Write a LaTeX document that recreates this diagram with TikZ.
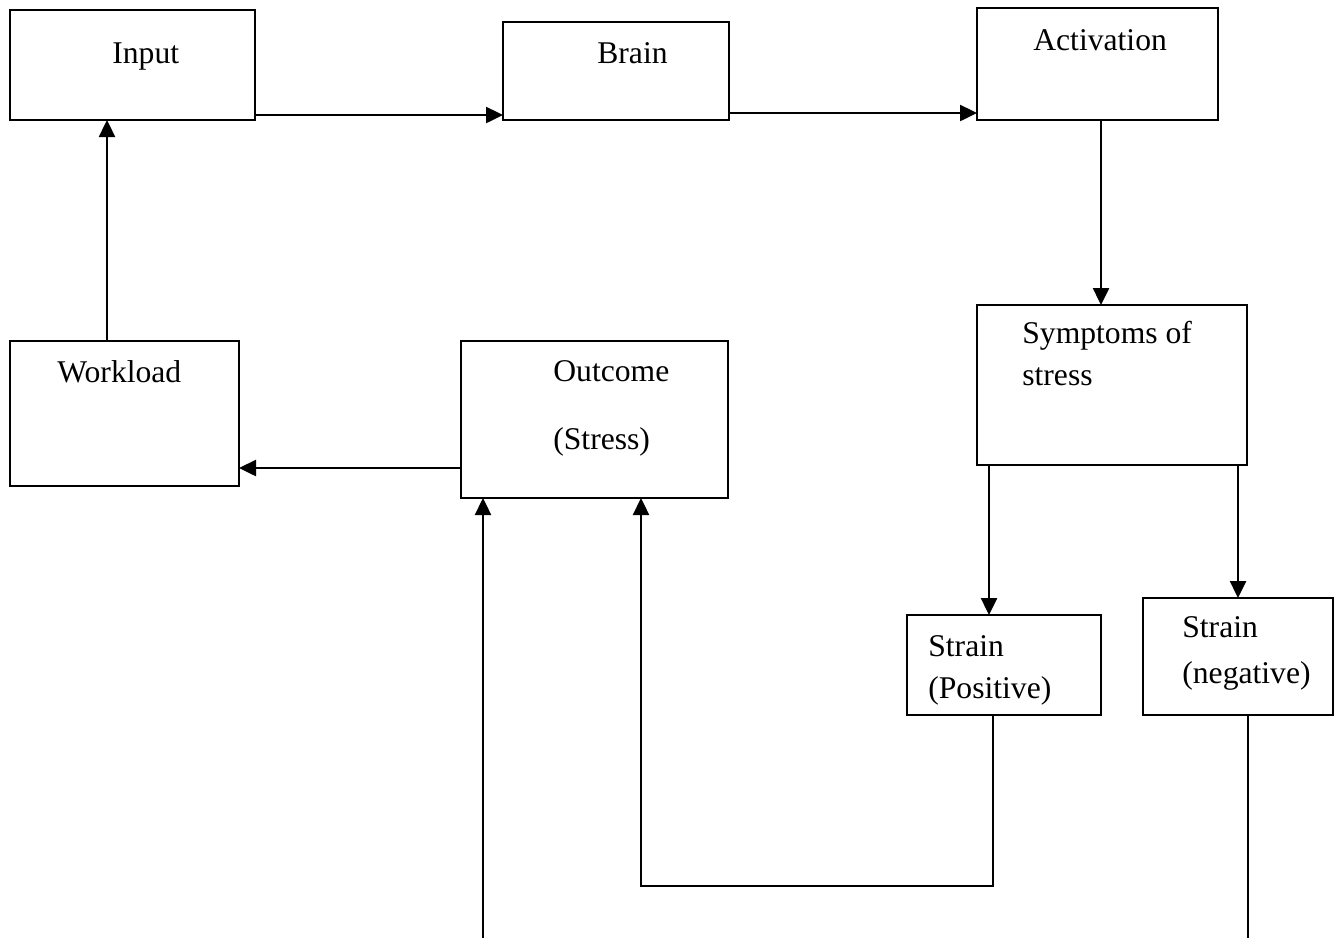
\documentclass[tikz,border=0pt]{standalone}
\usepackage{fontspec}
\setmainfont{Liberation Serif}
\usetikzlibrary{arrows.meta}
\begin{document}
\begin{tikzpicture}[x=0.02cm,y=-0.02cm,
	box/.style={draw,line width=1pt,inner sep=0pt,outer sep=0pt,anchor=north west},
	lbl/.style={anchor=base west,inner sep=0pt,font=\fontsize{18}{22}\selectfont},
	arr/.style={line width=1.4pt,-{Triangle[length=0.34cm,width=0.32cm]}},
	ln/.style={line width=1.4pt}]%Hình
	\useasboundingbox (0,0) rectangle (1341,938);
	\foreach \n/\x/\y/\w/\h in {input/10/10/245/110,brain/503/22/226/98,activ/977/8/241/112,
		sympt/977/305/270/160,workload/10/341/229/145,outcome/461/341/267/157,
		strpos/907/615/194/100,strneg/1143/598/190/117}
	\node[box,minimum width=\w*0.02cm,minimum height=\h*0.02cm] (\n) at (\x,\y) {};
	\foreach \n/\x/\y/\t in {tin/112/63/Input,tbr/597/63/Brain,tac/1033/50/Activation,
		twl/57/382/Workload,tou/553/381/Outcome,tst/553/449/(Stress),
		tsy/1022/343/Symptoms of,tsy2/1022/385/stress,
		tsp/928/656/Strain,tsp2/928/698/(Positive),tsn/1182/637/Strain,tsn2/1182/683/(negative)}
	\node[lbl] (\n) at (\x,\y) {\t};
	\path (483,938) coordinate (B1) (1248,938) coordinate (B2) (641,886) coordinate (K);
	\draw[arr] ([yshift=0.1cm]input.south east) -- ([yshift=0.1cm]brain.south west);
	\draw[arr] ([yshift=0.14cm]brain.south east) -- ([yshift=0.14cm]activ.south west);
	\draw[arr] (activ.south -| 1101,0) -- (sympt.north -| 1101,0);
	\draw[arr] (sympt.south -| 989,0) -- (strpos.north -| 989,0);
	\draw[arr] (sympt.south -| 1238,0) -- (strneg.north -| 1238,0);
	\draw[arr] (strpos.south -| 993,0) |- (K) -- (outcome.south -| K);
	\draw[ln] (strneg.south -| B2) -- (B2);
	\draw[arr] (B1) -- (outcome.south -| B1);
	\draw[arr] (outcome.west |- 0,468) -- (workload.east |- 0,468);
	\draw[arr] (workload.north -| 107,0) -- (input.south -| 107,0);
\end{tikzpicture}
\end{document}
